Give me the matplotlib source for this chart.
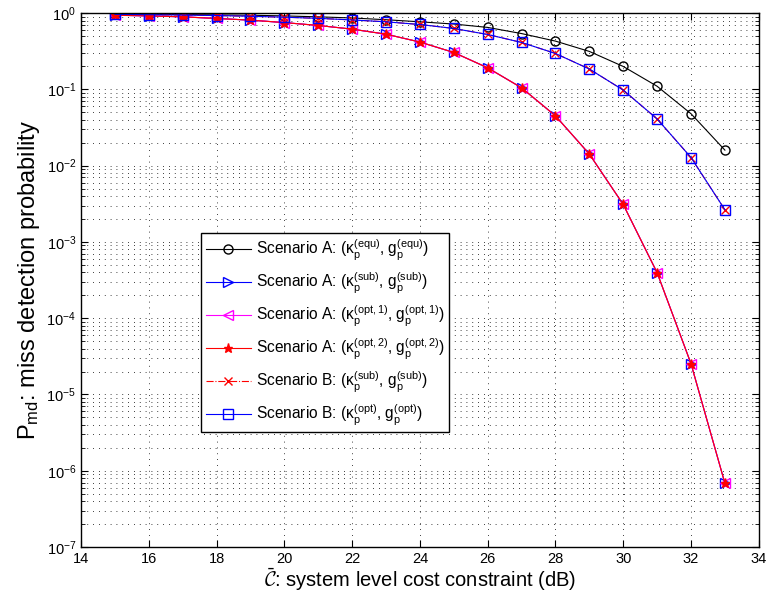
import numpy as np
import matplotlib
matplotlib.use("Agg")
import matplotlib.pyplot as plt
from matplotlib.ticker import LogLocator, NullFormatter, MultipleLocator


# 字型設定 (接近 MATLAB 的 Helvetica)
plt.rcParams["font.family"] = ["Liberation Sans", "DejaVu Sans"]
plt.rcParams["mathtext.fontset"] = "custom"
plt.rcParams["mathtext.rm"] = "Liberation Sans"
plt.rcParams["mathtext.it"] = "Liberation Sans"
plt.rcParams["mathtext.default"] = "regular"


# 資料
cost_db = [15, 16, 17, 18, 19, 20, 21, 22, 23, 24, 25, 26, 27, 28, 29, 30, 31, 32, 33]

pmd_A_equ = [0.97, 0.965, 0.96, 0.95, 0.94, 0.92, 0.895, 0.865, 0.82, 0.77,
             0.72, 0.65, 0.54, 0.43, 0.315, 0.20, 0.11, 0.048, 0.016]

pmd_A_sub = [0.94, 0.92, 0.895, 0.852, 0.81, 0.752, 0.69, 0.617, 0.53, 0.418,
             0.305, 0.192, 0.105, 0.045, 0.0142, 0.0031, 3.95e-4, 2.53e-5, 6.85e-7]
pmd_A_opt1 = [0.94, 0.92, 0.895, 0.852, 0.81, 0.752, 0.69, 0.617, 0.53, 0.418,
              0.305, 0.192, 0.105, 0.045, 0.0142, 0.0031, 3.95e-4, 2.53e-5, 6.85e-7]
pmd_A_opt2 = [0.94, 0.92, 0.895, 0.852, 0.81, 0.752, 0.69, 0.617, 0.53, 0.418,
              0.305, 0.192, 0.105, 0.045, 0.0142, 0.0031, 3.95e-4, 2.53e-5, 6.85e-7]

pmd_B_sub = [0.965, 0.955, 0.945, 0.93, 0.91, 0.885, 0.855, 0.815, 0.77, 0.71,
             0.63, 0.525, 0.413, 0.296, 0.185, 0.098, 0.041, 0.0128, 0.00264]
pmd_B_opt = [0.965, 0.955, 0.945, 0.93, 0.91, 0.885, 0.855, 0.815, 0.77, 0.71,
             0.63, 0.525, 0.413, 0.296, 0.185, 0.098, 0.041, 0.0128, 0.00264]

labels = [
    r"Scenario A: ($\kappa_p^{(equ)}$, $g_p^{(equ)}$)",
    r"Scenario A: ($\kappa_p^{(sub)}$, $g_p^{(sub)}$)",
    r"Scenario A: ($\kappa_p^{(opt,1)}$, $g_p^{(opt,1)}$)",
    r"Scenario A: ($\kappa_p^{(opt,2)}$, $g_p^{(opt,2)}$)",
    r"Scenario B: ($\kappa_p^{(sub)}$, $g_p^{(sub)}$)",
    r"Scenario B: ($\kappa_p^{(opt)}$, $g_p^{(opt)}$)",
]


fig, ax = plt.subplots(figsize=(7.68, 5.98), dpi=100)
fig.subplots_adjust(left=0.1055, right=0.988, bottom=0.0853, top=0.978)

ms = 6.5
lw = 0.8

ax.semilogy(cost_db, pmd_A_equ, "-o", color="black", lw=lw, ms=ms,
            mfc="none", label=labels[0])
ax.semilogy(cost_db, pmd_A_sub, "->", color="blue", lw=lw, ms=ms,
            mfc="none", label=labels[1])
ax.semilogy(cost_db, pmd_A_opt1, "-<", color="magenta", lw=lw, ms=ms,
            mfc="none", label=labels[2])
ax.semilogy(cost_db, pmd_A_opt2, "-*", color="red", lw=lw, ms=ms,
            label=labels[3])
ax.semilogy(cost_db, pmd_B_sub, "-.x", color="red", lw=lw, ms=ms - 1,
            label=labels[4])
ax.semilogy(cost_db, pmd_B_opt, "-s", color="blue", lw=lw, ms=ms,
            mfc="none", label=labels[5])

ax.set_xlim(14, 34)
ax.set_ylim(1e-7, 1)
ax.xaxis.set_major_locator(MultipleLocator(2))
ax.yaxis.set_major_locator(LogLocator(base=10, numticks=20))
ax.yaxis.set_minor_locator(LogLocator(base=10, subs=np.arange(2, 10), numticks=100))
ax.yaxis.set_minor_formatter(NullFormatter())

# 格線 (MATLAB 風格點線)
grid_style = dict(color="black", linestyle=(0, (1, 6)), linewidth=0.6)
ax.grid(True, which="major", axis="both", **grid_style)
ax.grid(True, which="minor", axis="y", **grid_style)

ax.tick_params(which="both", direction="in", top=True, right=True, labelsize=10.5)
ax.tick_params(which="major", length=5)
ax.tick_params(which="minor", length=3)
for spine in ax.spines.values():
    spine.set_linewidth(1.0)

ax.set_xlabel(r"$\bar{\mathcal{C}}$: system level cost constraint (dB)",
              fontsize=14.5, math_fontfamily="cm", labelpad=0)
ax.set_ylabel(r"P$_{md}$: miss detection probability", fontsize=17, labelpad=3)

leg = ax.legend(loc="lower left", bbox_to_anchor=(0.177, 0.215),
                borderaxespad=0, fontsize=11.2, handlelength=2.9,
                handletextpad=0.35, labelspacing=0.5, borderpad=0.3,
                fancybox=False, framealpha=1, edgecolor="black")
leg.get_frame().set_linewidth(1.0)

plt.savefig("out.png", dpi=100)
plt.close()
